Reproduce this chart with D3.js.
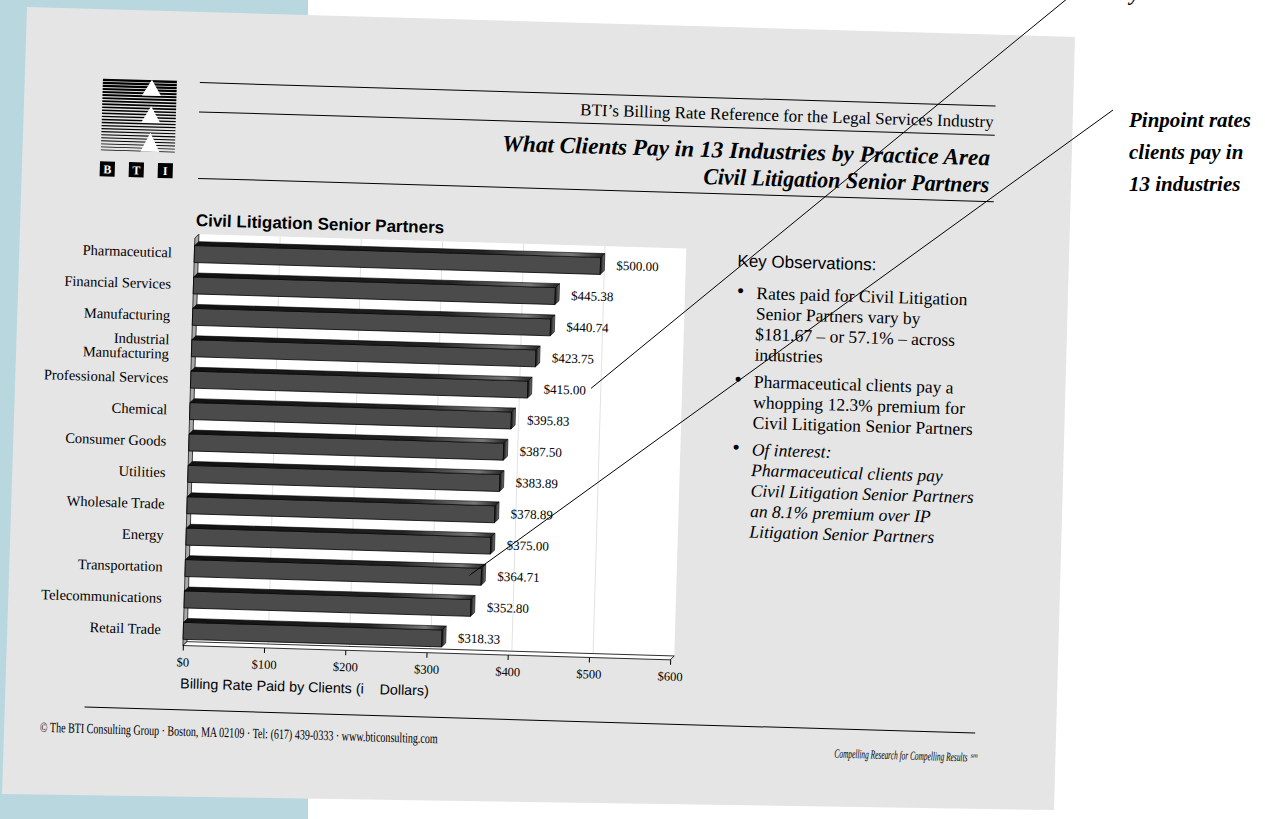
<!DOCTYPE html>
<html>
<head>
<meta charset="utf-8">
<script src="https://cdn.jsdelivr.net/npm/d3@7"></script>
<style>
  html, body { margin: 0; padding: 0; background: #fff; overflow: hidden; }
</style>
</head>
<body>
<svg id="chart" width="1265" height="819"></svg>
<script>
// data
const categories = [
  "Pharmaceutical", "Financial Services", "Manufacturing", "Industrial\nManufacturing",
  "Professional Services", "Chemical", "Consumer Goods", "Utilities", "Wholesale Trade",
  "Energy", "Transportation", "Telecommunications", "Retail Trade"
];
const values = [500.00, 445.38, 440.74, 423.75, 415.00, 395.83, 387.50, 383.89, 378.89, 375.00, 364.71, 352.80, 318.33];
const tickValues = [0, 100, 200, 300, 400, 500, 600];

const bullets = [
  { italic: false, lines: ["Rates paid for Civil Litigation", "Senior Partners vary by", "$181.67 \u2013 or 57.1% \u2013 across", "industries"] },
  { italic: false, lines: ["Pharmaceutical clients pay a", "whopping 12.3% premium for", "Civil Litigation Senior Partners"] },
  { italic: true, lines: ["Of interest:", "Pharmaceutical clients pay", "Civil Litigation Senior Partners", "an 8.1% premium over IP", "Litigation Senior Partners"] }
];
const sideNote = ["Pinpoint rates", "clients pay in", "13 industries"];

const serif = '"Liberation Serif","Times New Roman",serif';
const sans = '"Liberation Sans",Arial,sans-serif';

const svg = d3.select('#chart');
const W = 1265, H = 819;

// the slide is photographed slightly tilted
const ANG = 1.68, OX = 27, OY = 8;
const rad = ANG * Math.PI / 180;
const toScreen = (px, py) => [OX + px * Math.cos(rad) - py * Math.sin(rad), OY + px * Math.sin(rad) + py * Math.cos(rad)];

const defs = svg.append('defs');
const gTop = defs.append('linearGradient').attr('id', 'topFace').attr('x1', 0).attr('x2', 1).attr('y1', 0).attr('y2', 0);
gTop.append('stop').attr('offset', '0%').attr('stop-color', '#111');
gTop.append('stop').attr('offset', '70%').attr('stop-color', '#222');
gTop.append('stop').attr('offset', '92%').attr('stop-color', '#777');
gTop.append('stop').attr('offset', '100%').attr('stop-color', '#222');
const gEnd = defs.append('linearGradient').attr('id', 'endFace').attr('x1', 0).attr('x2', 1).attr('y1', 0).attr('y2', 0);
gEnd.append('stop').attr('offset', '0%').attr('stop-color', '#111');
gEnd.append('stop').attr('offset', '100%').attr('stop-color', '#777');

// background
svg.append('rect').attr('width', W).attr('height', H).attr('fill', '#fff');
svg.append('rect').attr('width', 308).attr('height', H).attr('fill', '#b8d7df');
svg.append('polygon').attr('points', '27,7 1075,37 1054,810 2,794').attr('fill', '#e5e5e5');

const slide = svg.append('g').attr('transform', `translate(${OX},${OY}) rotate(${ANG})`);

// header rules
[[175, 971, 69.5], [175, 971, 98.8], [176, 972, 165.3]].forEach(([a, b, yy]) => {
  slide.append('line').attr('x1', a).attr('x2', b).attr('y1', yy).attr('y2', yy)
    .attr('stroke', '#000').attr('stroke-width', 1);
});

slide.append('text').attr('x', 969.5).attr('y', 91).attr('text-anchor', 'end')
  .style('font-family', serif).style('font-size', '17px')
  .text('BTI\u2019s Billing Rate Reference for the Legal Services Industry');
slide.append('text').attr('x', 967).attr('y', 129).attr('text-anchor', 'end')
  .attr('textLength', 488).attr('lengthAdjust', 'spacingAndGlyphs')
  .style('font-family', serif).style('font-size', '23px').style('font-weight', 'bold').style('font-style', 'italic')
  .text('What Clients Pay in 13 Industries by Practice Area');
slide.append('text').attr('x', 967).attr('y', 156).attr('text-anchor', 'end')
  .attr('textLength', 286).attr('lengthAdjust', 'spacingAndGlyphs')
  .style('font-family', serif).style('font-size', '23px').style('font-weight', 'bold').style('font-style', 'italic')
  .text('Civil Litigation Senior Partners');

// logo
const logo = slide.append('g').attr('transform', 'translate(78,68)');
const LS = 74;
for (let i = 0; i < 24; i++) {
  logo.append('rect').attr('x', 0).attr('y', 0.4 + i * LS / 24).attr('width', LS)
    .attr('height', 2.3 - i * 0.068).attr('fill', '#000');
}
[[0, 16], [26.5, 43], [53, 72]].forEach(([t, b]) => {
  logo.append('polygon').attr('points', `49,${t} ${58.5},${b} ${39.5},${b}`).attr('fill', '#fff');
});
['B', 'T', 'I'].forEach((ch, i) => {
  const bx = -0.5 + i * 29;
  logo.append('rect').attr('x', bx).attr('y', 83).attr('width', 15).attr('height', 15).attr('fill', '#000');
  logo.append('text').attr('x', bx + 7.5).attr('y', 95).attr('text-anchor', 'middle')
    .style('font-family', serif).style('font-size', '12px').style('font-weight', 'bold').attr('fill', '#fff').text(ch);
});

// chart
const x = d3.scaleLinear().domain([0, 600]).range([174.5, 662]);
const y = d3.scaleBand().domain(categories).range([224.3, 632.7]);
const D = 4, wallTop = 221, axisY = 632.7;
const bw = y.bandwidth();

slide.append('text').attr('x', 175).attr('y', 213)
  .style('font-family', sans).style('font-size', '17px').style('font-weight', 'bold')
  .text('Civil Litigation Senior Partners');

const chart = slide.append('g');
chart.append('rect').attr('x', x(0) + D).attr('y', wallTop)
  .attr('width', x(600) - x(0)).attr('height', axisY - D - wallTop).attr('fill', '#fff');
chart.selectAll('line.grid').data(tickValues.slice(1, -1)).join('line').attr('class', 'grid')
  .attr('x1', d => x(d) + D).attr('x2', d => x(d) + D)
  .attr('y1', wallTop).attr('y2', axisY - D)
  .attr('stroke', '#e2e2e2').attr('stroke-width', 1);
chart.append('polygon')
  .attr('points', [[x(0), wallTop + D], [x(0) + D, wallTop], [x(0) + D, axisY - D], [x(0), axisY]].join(' '))
  .attr('fill', '#a9a9a9').attr('stroke', '#000').attr('stroke-width', 0.7);
chart.append('polygon')
  .attr('points', [[x(0), axisY], [x(0) + D, axisY - D], [x(600) + D, axisY - D], [x(600), axisY]].join(' '))
  .attr('fill', '#fff').attr('stroke', '#000').attr('stroke-width', 0.8);

const data = categories.map((c, i) => ({ c, v: values[i] }));
const BH = 17;
const barTop = d => y(d.c) + bw / 2 + 1 - BH / 2;
const bars = chart.append('g').selectAll('g').data(data).join('g');
bars.append('rect')
  .attr('x', x(0)).attr('y', barTop)
  .attr('width', d => x(d.v) - x(0)).attr('height', BH)
  .attr('fill', '#4b4b4b').attr('stroke', '#000').attr('stroke-width', 0.8);
bars.append('polygon')
  .attr('points', d => { const t = barTop(d), x0 = x(0), x1 = x(d.v); return [[x0, t], [x0 + D, t - D], [x1 + D, t - D], [x1, t]].join(' '); })
  .attr('fill', 'url(#topFace)').attr('stroke', '#000').attr('stroke-width', 0.6);
bars.append('polygon')
  .attr('points', d => { const t = barTop(d), x1 = x(d.v); return [[x1, t], [x1 + D, t - D], [x1 + D, t + BH - D], [x1, t + BH]].join(' '); })
  .attr('fill', 'url(#endFace)').attr('stroke', '#000').attr('stroke-width', 0.6);

const valueText = bars.append('text')
  .attr('x', d => x(d.v) + 16).attr('y', d => y(d.c) + bw / 2 + 4.5)
  .attr('fill', '#000')
  .style('font-family', serif).style('font-size', '13px')
  .text(d => '$' + d3.format('.2f')(d.v));

// category labels
const catG = slide.append('g').selectAll('text').data(categories).join('text')
  .attr('text-anchor', 'end')
  .style('font-family', serif).style('font-size', '14.5px');
catG.each(function (c) {
  const parts = c.split('\n');
  const cy = y(c) + bw / 2;
  parts.forEach((p, k) => {
    d3.select(this).append('tspan').attr('x', 152)
      .attr('y', cy + 5 + (k - (parts.length - 1) / 2) * 14.4).text(p);
  });
});

// x axis
const axis = slide.append('g').attr('transform', `translate(0,${axisY})`)
  .call(d3.axisBottom(x).tickValues(tickValues).tickFormat(d => '$' + d).tickSize(5).tickPadding(7));
axis.select('.domain').remove();
axis.selectAll('.tick line').attr('stroke', '#000');
axis.selectAll('.tick text').style('font-family', serif).style('font-size', '12.5px').attr('fill', '#000');

slide.append('text').attr('x', 173).attr('y', 675.5).attr('xml:space', 'preserve')
  .style('font-family', sans).style('font-size', '14.3px').style('white-space', 'pre')
  .text('Billing Rate Paid by Clients (i    Dollars)');

// key observations
slide.append('text').attr('x', 717.6).attr('y', 237.5)
  .style('font-family', sans).style('font-size', '17px').text('Key Observations:');
let by = 269.6;
bullets.forEach(b => {
  slide.append('text').attr('x', 718).attr('y', by - 1)
    .style('font-family', serif).style('font-size', '21px').text('\u2022');
  b.lines.forEach((ln, k) => {
    slide.append('text').attr('x', 737.5).attr('y', by + k * 20.5)
      .style('font-family', serif).style('font-size', '17.5px')
      .style('font-style', b.italic ? 'italic' : 'normal').text(ln);
  });
  by += b.lines.length * 20.5 + 6.5;
});

// footer
slide.append('line').attr('x1', 78).attr('x2', 969).attr('y1', 697).attr('y2', 697)
  .attr('stroke', '#000').attr('stroke-width', 1);
slide.append('text').attr('x', 34).attr('y', 723)
  .attr('textLength', 398).attr('lengthAdjust', 'spacingAndGlyphs')
  .style('font-family', serif).style('font-size', '14px')
  .text('\u00a9 The BTI Consulting Group \u00b7 Boston, MA 02109 \u00b7 Tel: (617) 439-0333 \u00b7 www.bticonsulting.com');
const comp = slide.append('text').attr('x', 829).attr('y', 725.5)
  .style('font-family', serif).style('font-size', '12.5px').style('font-style', 'italic');
comp.append('tspan').attr('textLength', 133).attr('lengthAdjust', 'spacingAndGlyphs')
  .text('Compelling Research for Compelling Results');
comp.append('tspan').attr('dx', 3).attr('dy', -4).style('font-size', '6.5px').text('sm');

// callout lines and side note (outside the slide)
const profIdx = categories.indexOf('Professional Services');
const profNode = valueText.nodes()[profIdx];
const aStart = toScreen(x(values[profIdx]) + 16 + profNode.getComputedTextLength() + 5, y(categories[profIdx]) + bw / 2 - 2);
const trIdx = categories.indexOf('Transportation');
const bStart = toScreen(x(values[trIdx]) - 12, y(categories[trIdx]) + bw / 2);
svg.append('line').attr('x1', aStart[0]).attr('y1', aStart[1]).attr('x2', 1068).attr('y2', -2)
  .attr('stroke', '#000').attr('stroke-width', 1);
svg.append('line').attr('x1', bStart[0]).attr('y1', bStart[1]).attr('x2', 1113).attr('y2', 110)
  .attr('stroke', '#000').attr('stroke-width', 1);

svg.append('text').attr('x', 1130).attr('y', 0)
  .style('font-family', serif).style('font-size', '21px').style('font-weight', 'bold').style('font-style', 'italic')
  .text('you stand');
sideNote.forEach((t, i) => {
  svg.append('text').attr('x', 1129).attr('y', 127 + i * 32)
    .style('font-family', serif).style('font-size', '21px').style('font-weight', 'bold').style('font-style', 'italic')
    .text(t);
});
</script>
</body>
</html>
